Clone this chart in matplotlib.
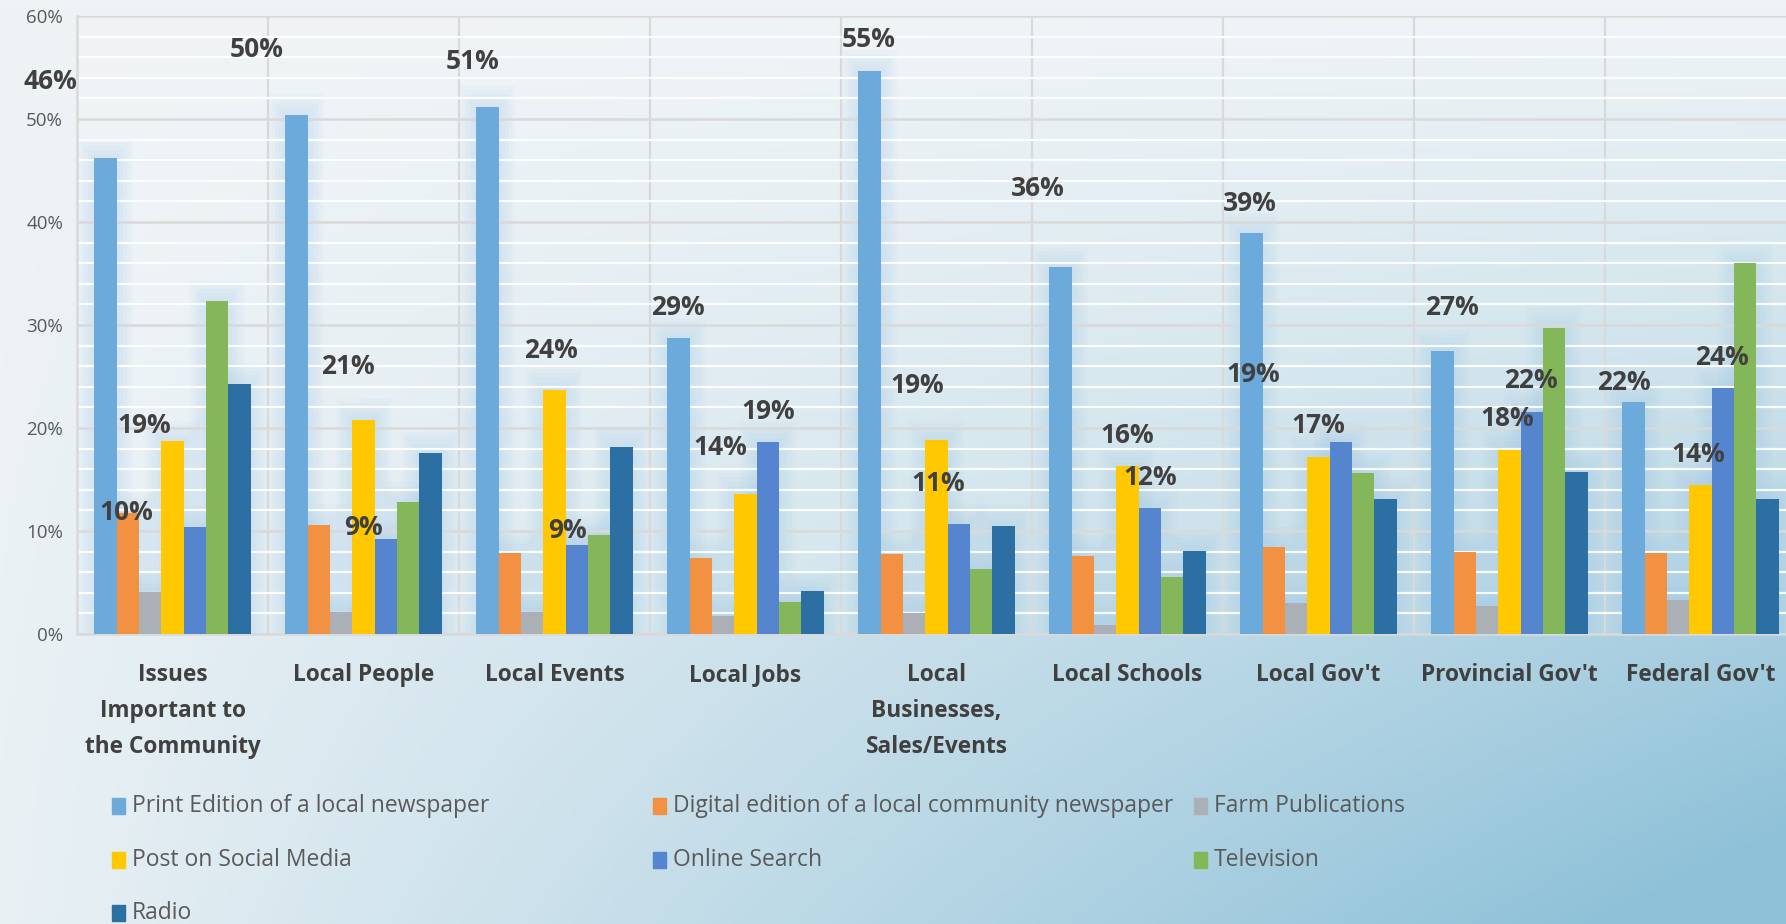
import matplotlib.pyplot as plt
import numpy as np
from matplotlib.patches import Rectangle

plt.rcParams['font.family'] = ['Open Sans', 'DejaVu Sans']

categories = ["Issues\nImportant to\nthe Community", "Local People", "Local Events",
              "Local Jobs", "Local\nBusinesses,\nSales/Events", "Local Schools",
              "Local Gov't", "Provincial Gov't", "Federal Gov't"]

series_names = ["Print Edition of a local newspaper",
                "Digital edition of a local community newspaper",
                "Farm Publications", "Post on Social Media", "Online Search",
                "Television", "Radio"]

print_edition = [46.2, 50.4, 51.2, 28.7, 54.7, 35.6, 38.9, 27.5, 22.5]
digital_edition = [11.7, 10.6, 7.9, 7.4, 7.8, 7.6, 8.4, 8.0, 7.9]
farm_pubs = [4.1, 2.1, 2.1, 1.7, 2.0, 0.9, 3.0, 2.7, 3.3]
social_media = [18.7, 20.8, 23.7, 13.6, 18.8, 16.3, 17.2, 17.9, 14.5]
online_search = [10.4, 9.2, 8.6, 18.6, 10.7, 12.2, 18.6, 21.6, 23.9]
television = [32.3, 12.8, 9.6, 3.1, 6.3, 5.5, 15.6, 29.7, 36.0]
radio = [24.3, 17.6, 18.2, 4.2, 10.5, 8.1, 13.1, 15.7, 13.1]

colors = ["#6DAADC", "#F29142", "#AAB0B5", "#FFC800", "#5585CF", "#83B75A", "#2C6FA3"]

# data labels as they sit in the original (text, x in category units, y in %)
label_texts = ["46%", "50%", "19%", "10%", "21%", "9%", "51%", "24%", "9%",
               "29%", "14%", "19%", "55%", "19%", "11%", "36%", "16%", "12%",
               "39%", "19%", "17%", "27%", "22%", "18%", "22%", "24%", "14%"]
label_x = [-0.64, 0.44, -0.15, -0.24, 0.92, 1.00, 1.57, 1.98, 2.07,
           2.645, 2.87, 3.12, 3.645, 3.90, 4.01, 4.53, 5.00, 5.12,
           5.64, 5.66, 6.00, 6.70, 7.11, 6.99, 7.60, 8.11, 7.99]
label_y = [53.6, 56.7, 20.2, 11.8, 26.0, 10.3, 55.6, 27.5, 10.0,
           31.7, 18.1, 21.6, 57.7, 24.1, 14.6, 43.3, 19.3, 15.2,
           41.8, 25.2, 20.2, 31.7, 24.6, 20.9, 24.4, 26.8, 17.4]

all_series = [print_edition, digital_edition, farm_pubs, social_media,
              online_search, television, radio]

W, H = 1786, 924
fig = plt.figure(figsize=(W / 100, H / 100), dpi=100)

# background gradient
bg = fig.add_axes([0, 0, 1, 1], zorder=-10)
gx, gy = np.meshgrid(np.linspace(0, 1, 400), np.linspace(0, 1, 200))
t = np.clip(gx * gy * 1.05 + 0.05 * gy, 0, 1)
light = np.array([0xEE, 0xF3, 0xF6]) / 255
dark = np.array([0x8E, 0xC1, 0xD8]) / 255
img = light[None, None, :] * (1 - t[..., None]) + dark[None, None, :] * t[..., None]
bg.imshow(img, aspect='auto', extent=[0, 1, 1, 0])
bg.axis('off')

ax = fig.add_axes([77 / W, 1 - 634 / H, 1719 / W, 618 / H])
ax.set_facecolor((1, 1, 1, 0.15))

x = np.arange(len(categories))
n = len(all_series)
width = 0.117
for i, vals in enumerate(all_series):
    pos = x + (i - (n - 1) / 2) * width
    # soft glow behind bars
    for k in range(1, 6):
        ax.bar(pos, np.array(vals) + 0.4 * k, width=width + 0.035 * k,
               color="#9CC6E6", alpha=0.06, zorder=1, linewidth=0)
    ax.bar(pos, vals, width=width, color=colors[i], zorder=3, linewidth=0)

for txt, lx, ly in zip(label_texts, label_x, label_y):
    ax.text(lx, ly, txt, ha='center', va='center', fontsize=19,
            fontweight='bold', color='#404040', zorder=5)

ax.set_xlim(-0.5, len(categories) - 0.5)
ax.set_ylim(0, 60)
ax.set_yticks(range(0, 61, 10))
ax.set_yticklabels(["%d%%" % v for v in range(0, 61, 10)])
ax.set_yticks(range(0, 61, 2), minor=True)
ax.grid(axis='y', which='minor', color='white', lw=1.6, alpha=0.9, zorder=0)
ax.grid(axis='y', which='major', color='#D9D9D9', lw=1.8, zorder=0)
for b in np.arange(0.5, len(categories) - 0.5, 1):
    ax.axvline(b, color='#D9D9D9', lw=1.6, zorder=0)

ax.set_xticks(x)
ax.set_xticklabels(categories, fontsize=16.3, fontweight='bold', color='#404040',
                   linespacing=1.65, va='top')
ax.tick_params(axis='x', length=0, pad=21)
ax.tick_params(axis='y', which='both', length=0, pad=10, labelsize=13.5,
               labelcolor='#595959')
for s in ['top', 'right']:
    ax.spines[s].set_visible(False)
ax.spines['left'].set_color('#D9D9D9')
ax.spines['left'].set_linewidth(1.8)
ax.spines['bottom'].set_color('#D9D9D9')
ax.spines['bottom'].set_linewidth(1.8)

# legend laid out in three equal columns like the original
col_x = [112, 653, 1194]
row_y = [806, 860, 913]
for i, name in enumerate(series_names):
    cx = col_x[i % 3]
    cy = row_y[i // 3]
    fig.patches.append(Rectangle((cx / W, 1 - (cy + 8) / H), 13 / W, 16 / H,
                                 transform=fig.transFigure, color=colors[i]))
    fig.text((cx + 20) / W, 1 - cy / H, name, ha='left', va='center',
             fontsize=16.5, color='#595959')

fig.savefig('out.png', dpi=100)
